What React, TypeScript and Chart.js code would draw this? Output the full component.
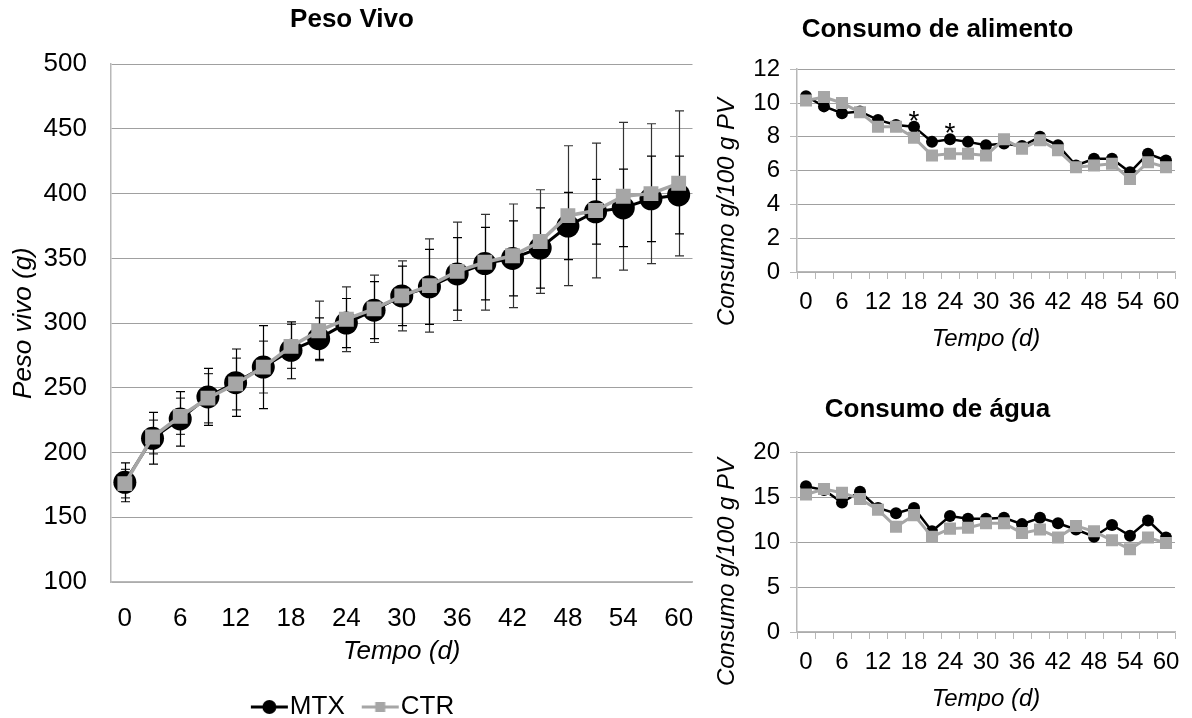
import React, { useEffect, useRef } from 'react';
import { Chart, registerables } from 'chart.js';

Chart.register(...registerables);

// ---------- DATA ----------
const days = ['0', '3', '6', '9', '12', '15', '18', '21', '24', '27', '30', '33', '36', '39', '42', '45', '48', '51', '54', '57', '60'];

const pesoMTX = [177, 211, 226, 243, 254, 266, 279, 288, 300, 310, 321, 328, 338, 346, 350, 358, 375, 386, 389, 396, 399];
const pesoCTR = [176, 212, 228, 242, 253, 266, 282, 294, 303, 311, 321, 329, 340, 347, 352, 363, 383, 387, 398, 400, 408];
const pesoSdMTX = [15, 20, 21, 22, 26, 32, 22, 16, 19, 22, 23, 29, 28, 28, 29, 31, 26, 25, 30, 33, 30];
const pesoSdCTR = [11, 13, 14, 19, 20, 20, 17, 23, 25, 26, 27, 36, 38, 37, 40, 40, 54, 52, 57, 54, 56];

const alimMTX = [10.4, 9.8, 9.4, 9.5, 9.0, 8.7, 8.6, 7.7, 7.85, 7.7, 7.5, 7.6, 7.45, 8.0, 7.5, 6.3, 6.7, 6.7, 5.9, 7.0, 6.6];
const alimCTR = [10.15, 10.35, 10.0, 9.45, 8.6, 8.6, 7.95, 6.9, 7.0, 7.0, 6.9, 7.85, 7.3, 7.8, 7.2, 6.2, 6.3, 6.4, 5.5, 6.5, 6.2];
const alimSignif = [6, 8];

const aguaMTX = [16.2, 15.8, 14.4, 15.6, 13.8, 13.2, 13.8, 11.2, 12.9, 12.6, 12.6, 12.7, 12.0, 12.7, 12.1, 11.4, 10.6, 11.9, 10.7, 12.4, 10.5];
const aguaCTR = [15.3, 15.9, 15.5, 14.8, 13.6, 11.7, 13.0, 10.6, 11.5, 11.6, 12.1, 12.1, 11.0, 11.4, 10.5, 11.8, 11.2, 10.2, 9.2, 10.5, 9.9];

const seriesNames = ['MTX', 'CTR'];

// ---------- STYLE ----------
const F = '"Liberation Sans", Arial, sans-serif';
const BLACK = '#000000';
const GRAY = '#a6a6a6';
const GRID = '#a0a0a0';
const AXIS = '#b8b8b8';

const errorBarsPlugin = {
  id: 'errorBars',
  beforeDatasetsDraw(chart: any) {
    const ctx = chart.ctx;
    const yScale = chart.scales.y;
    const order = chart.data.datasets.map((_: any, i: number) => i).reverse();
    order.forEach((i: number) => {
      const ds = chart.data.datasets[i];
      if (!ds.errors) return;
      const meta = chart.getDatasetMeta(i);
      ctx.save();
      ctx.strokeStyle = ds.errorColor || '#000';
      ctx.lineWidth = 1.2;
      meta.data.forEach((pt: any, j: number) => {
        const v = ds.data[j];
        const e = ds.errors[j];
        const x = Math.round(pt.x) + 0.5;
        const yt = yScale.getPixelForValue(v + e);
        const yb = yScale.getPixelForValue(v - e);
        ctx.beginPath();
        ctx.moveTo(x, yt);
        ctx.lineTo(x, yb);
        ctx.moveTo(x - 4.5, yt);
        ctx.lineTo(x + 4.5, yt);
        ctx.moveTo(x - 4.5, yb);
        ctx.lineTo(x + 4.5, yb);
        ctx.stroke();
      });
      ctx.restore();
    });
  },
};

const asteriskPlugin = {
  id: 'asterisks',
  afterDatasetsDraw(chart: any, _args: any, opts: any) {
    if (!opts || !opts.indices) return;
    const meta = chart.getDatasetMeta(opts.datasetIndex || 0);
    const ctx = chart.ctx;
    ctx.save();
    ctx.fillStyle = '#000';
    ctx.font = `28px ${F}`;
    ctx.textAlign = 'center';
    ctx.textBaseline = 'alphabetic';
    opts.indices.forEach((idx: number) => {
      const p = meta.data[idx];
      if (p) ctx.fillText('*', p.x, p.y + 3);
    });
    ctx.restore();
  },
};

const sideTitlePlugin = {
  id: 'sideTitle',
  afterDraw(chart: any, _args: any, opts: any) {
    if (!opts || !opts.text) return;
    const ctx = chart.ctx;
    ctx.save();
    ctx.translate(opts.x, opts.y);
    ctx.rotate(-Math.PI / 2);
    ctx.fillStyle = '#000';
    ctx.font = `italic ${opts.size}px ${F}`;
    ctx.textAlign = 'center';
    ctx.textBaseline = 'middle';
    ctx.fillText(opts.text, 0, 0);
    ctx.restore();
  },
};

function makeIcon(color: string, shape: 'circle' | 'rect') {
  const c = document.createElement('canvas');
  c.width = 51;
  c.height = 26;
  const g = c.getContext('2d')!;
  g.strokeStyle = color;
  g.fillStyle = color;
  g.lineWidth = 3;
  g.beginPath();
  g.moveTo(13, 13);
  g.lineTo(50, 13);
  g.stroke();
  if (shape === 'circle') {
    g.beginPath();
    g.arc(31.5, 13, 7, 0, Math.PI * 2);
    g.fill();
  } else {
    g.fillRect(26.5, 8, 10, 10);
  }
  return c;
}

const xTickCb = (_v: any, i: number) => (i % 2 === 0 ? days[i] : '');

function leftConfig(): any {
  return {
    type: 'line',
    data: {
      labels: days,
      datasets: [
        {
          label: seriesNames[0],
          data: pesoMTX,
          errors: pesoSdMTX,
          errorColor: BLACK,
          borderColor: BLACK,
          backgroundColor: BLACK,
          borderWidth: 3,
          pointStyle: 'circle',
          pointRadius: 11.5,
          pointBorderWidth: 0,
          pointBackgroundColor: BLACK,
          order: 1,
        },
        {
          label: seriesNames[1],
          data: pesoCTR,
          errors: pesoSdCTR,
          errorColor: '#333333',
          borderColor: GRAY,
          backgroundColor: GRAY,
          borderWidth: 3.5,
          pointStyle: 'rect',
          pointRadius: 10.5,
          pointBorderWidth: 0,
          pointBackgroundColor: GRAY,
          order: 0,
        },
      ],
    },
    plugins: [errorBarsPlugin],
    options: {
      animation: false,
      responsive: false,
      layout: { padding: 0 },
      plugins: {
        tooltip: { enabled: false },
        title: {
          display: true,
          text: 'Peso Vivo',
          color: '#000',
          font: { size: 26, weight: 'bold', family: F },
          padding: { top: 4, bottom: 29 },
        },
        legend: {
          position: 'bottom',
          labels: {
            usePointStyle: true,
            pointStyleWidth: 27,
            padding: 16,
            color: '#000',
            font: { size: 26, family: F },
            generateLabels: () => [
              { text: seriesNames[0], pointStyle: makeIcon(BLACK, 'circle'), fillStyle: BLACK, strokeStyle: BLACK, lineWidth: 0, hidden: false, datasetIndex: 0, fontColor: '#000' },
              { text: seriesNames[1], pointStyle: makeIcon(GRAY, 'rect'), fillStyle: GRAY, strokeStyle: GRAY, lineWidth: 0, hidden: false, datasetIndex: 1, fontColor: '#000' },
            ],
          },
        },
      },
      scales: {
        x: {
          type: 'category',
          offset: true,
          grid: { display: false },
          border: { display: true, color: AXIS, width: 1.5 },
          ticks: { autoSkip: false, maxRotation: 0, color: '#000', font: { size: 26, family: F }, padding: 13, callback: xTickCb },
          title: { display: true, text: 'Tempo (d)', color: '#000', font: { size: 26, style: 'italic', family: F }, padding: { top: 0, bottom: 11 } },
          afterFit: (s: any) => { s.height = 96; s.paddingLeft = 0; s.paddingRight = 0; },
        },
        y: {
          min: 100,
          max: 500,
          grid: { color: GRID, drawTicks: false },
          border: { display: true, color: AXIS, width: 1.5 },
          ticks: { stepSize: 50, color: '#000', font: { size: 26, family: F }, padding: 24 },
          title: { display: true, text: 'Peso vivo (g)', color: '#000', font: { size: 26, style: 'italic', family: F }, padding: { top: 8, bottom: 0 } },
          afterFit: (s: any) => { s.width = 111; },
        },
      },
    },
  };
}

function rightConfig(title: string, mtx: number[], ctr: number[], yMax: number, step: number, titlePad: any, xHeight: number, xTitlePad: number, sideY: number, signif: number[] | null): any {
  return {
    type: 'line',
    data: {
      labels: days,
      datasets: [
        {
          label: seriesNames[0],
          data: mtx,
          borderColor: BLACK,
          backgroundColor: BLACK,
          borderWidth: 2.5,
          pointStyle: 'circle',
          pointRadius: 6,
          pointBorderWidth: 0,
          pointBackgroundColor: BLACK,
          order: 1,
        },
        {
          label: seriesNames[1],
          data: ctr,
          borderColor: GRAY,
          backgroundColor: GRAY,
          borderWidth: 3,
          pointStyle: 'rect',
          pointRadius: 8.5,
          pointBorderWidth: 0,
          pointBackgroundColor: GRAY,
          order: 0,
        },
      ],
    },
    plugins: [asteriskPlugin, sideTitlePlugin],
    options: {
      animation: false,
      responsive: false,
      layout: { padding: { left: 0, right: 17, top: 0, bottom: 0 } },
      plugins: {
        tooltip: { enabled: false },
        legend: { display: false },
        title: {
          display: true,
          text: title,
          color: '#000',
          font: { size: 26, weight: 'bold', family: F },
          padding: titlePad,
        },
        asterisks: signif ? { indices: signif, datasetIndex: 0 } : {},
        sideTitle: { text: 'Consumo g/100 g PV', x: 27, y: sideY, size: 24 },
      },
      scales: {
        x: {
          type: 'category',
          offset: true,
          grid: { display: true, drawOnChartArea: false, drawTicks: true, tickLength: 7, offset: true, color: AXIS },
          border: { display: true, color: AXIS, width: 1.5 },
          ticks: { autoSkip: false, maxRotation: 0, color: '#000', font: { size: 24, family: F }, padding: 9, callback: xTickCb },
          title: { display: true, text: 'Tempo (d)', color: '#000', font: { size: 24, style: 'italic', family: F }, padding: { top: 0, bottom: xTitlePad } },
          afterFit: (s: any) => { s.height = xHeight; },
        },
        y: {
          min: 0,
          max: yMax,
          grid: { color: GRID, drawTicks: true, tickLength: 7, tickColor: AXIS },
          border: { display: true, color: AXIS, width: 1.5 },
          ticks: { stepSize: step, color: '#000', font: { size: 24, family: F }, padding: 10 },
          afterFit: (s: any) => { s.width = 97; },
        },
      },
    },
  };
}

export default function App() {
  const r1 = useRef<HTMLCanvasElement>(null);
  const r2 = useRef<HTMLCanvasElement>(null);
  const r3 = useRef<HTMLCanvasElement>(null);

  useEffect(() => {
    const charts = [
      new Chart(r1.current!, leftConfig()),
      new Chart(r2.current!, rightConfig('Consumo de alimento', alimMTX, alimCTR, 12, 2, { top: 14, bottom: 24 }, 88, 6, 212, alimSignif)),
      new Chart(r3.current!, rightConfig('Consumo de água', aguaMTX, aguaCTR, 20, 5, { top: 24, bottom: 27 }, 86, 4, 202, null)),
    ];
    return () => charts.forEach((c) => c.destroy());
  }, []);

  return (
    <div style={{ position: 'absolute', left: 0, top: 0, width: 1192, height: 718, overflow: 'hidden', background: '#fff' }}>
      <canvas ref={r1} width={704} height={730} style={{ position: 'absolute', left: 0, top: 0 }} />
      <canvas ref={r2} width={492} height={360} style={{ position: 'absolute', left: 700, top: 0 }} />
      <canvas ref={r3} width={492} height={348} style={{ position: 'absolute', left: 700, top: 370 }} />
    </div>
  );
}
